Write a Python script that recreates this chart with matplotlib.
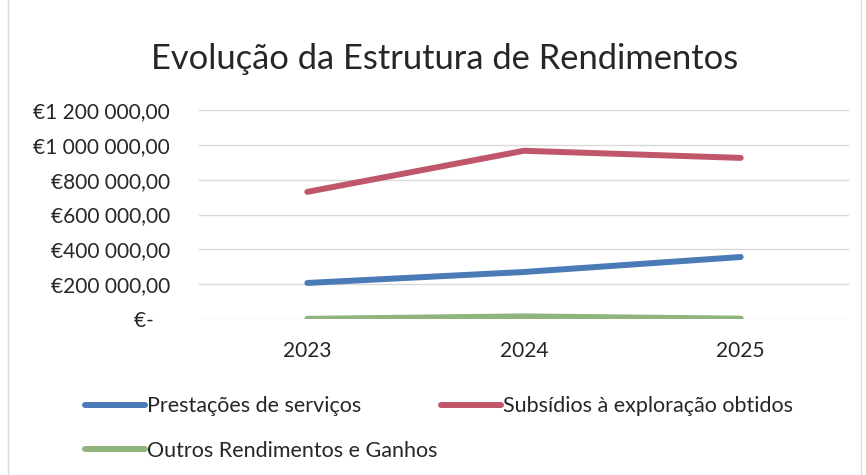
import matplotlib
matplotlib.use('Agg')
import matplotlib.pyplot as plt
from matplotlib.ticker import FuncFormatter
from matplotlib.patches import Rectangle

plt.rcParams['font.family'] = ['Lato', 'DejaVu Sans']

anos = ['2023', '2024', '2025']
prestacoes = [207000, 270000, 356000]
subsidios = [730000, 966000, 925000]
outros = [1000, 15000, 2000]

cor_azul = '#4a7bb7'
cor_verm = '#c0566a'
cor_verde = '#8fb47c'


def euro(v, pos):
    if v == 0:
        return '€-   '
    s = f'{v:,.2f}'.replace(',', ' ').replace('.', ',')
    return '€' + s


fig = plt.figure(figsize=(8.66, 4.75), dpi=100)
ax = fig.add_axes([0.2298, 0.3284, 0.7506, 0.44])

x = range(len(anos))
l1, = ax.plot(x, prestacoes, color=cor_azul, lw=4.3, solid_capstyle='round')
l2, = ax.plot(x, subsidios, color=cor_verm, lw=4.3, solid_capstyle='round')
l3, = ax.plot(x, outros, color=cor_verde, lw=4.3, solid_capstyle='round')

ax.set_xlim(-0.5, 2.5)
ax.set_ylim(0, 1200000)
ax.set_yticks(range(0, 1200001, 200000))
ax.yaxis.set_major_formatter(FuncFormatter(euro))
ax.set_xticks(list(x))
ax.set_xticklabels(anos)
ax.tick_params(length=0, labelsize=15, colors='#262626')
ax.tick_params(axis='y', pad=21)
ax.tick_params(axis='x', pad=16)
ax.grid(axis='y', color='#d9d9d9', lw=1)
ax.set_axisbelow(True)
for s in ax.spines.values():
    s.set_visible(False)

fig.text(0.514, 0.875, 'Evolução da Estrutura de Rendimentos', ha='center', va='center',
         fontsize=24.8, color='#262626')

fig.legend([l1, l3, l2],
           ['Prestações de serviços', 'Outros Rendimentos e Ganhos', 'Subsídios à exploração obtidos'],
           ncol=2, loc='upper left', bbox_to_anchor=(0.098, 0.166), bbox_transform=fig.transFigure,
           frameon=False, fontsize=15.5, handlelength=2.8, handletextpad=0.1,
           columnspacing=0.15, labelspacing=1.15, borderaxespad=0, borderpad=0,
           labelcolor='#262626')

fig.patches.append(Rectangle((0.009, -0.01), 0.985, 1.02, transform=fig.transFigure,
                             fill=False, edgecolor='#d9d9d9', lw=1))

fig.savefig('out.png', dpi=100)
